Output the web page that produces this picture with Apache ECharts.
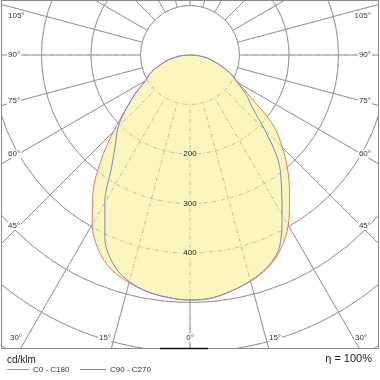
<!DOCTYPE html>
<html><head><meta charset="utf-8">
<script src="https://cdn.jsdelivr.net/npm/echarts@6/dist/echarts.min.js"></script>
<style>html,body{margin:0;padding:0;background:#fff}#c{width:380px;height:380px}</style>
</head><body><div id="c"></div>
<script>
// gamma angles (deg): negative = C180 / C270 half (left), positive = C0 / C90 half (right)
const angles = [-90,-85,-80,-75,-70,-65,-60,-55,-50,-45,-40,-35,-30,-25,-20,-15,-10,-5,0,
                5,10,15,20,25,30,35,40,45,50,55,60,65,70,75,80,85,90];
// luminous intensity, cd/klm
const c0c180 = [0,18,35,52,70,90,104,134,168,219,281,342,395,436,462,476,486,492,495,
                493,484,473,458,433,397,351,308,264,218,151,114,92,70,50,35,18,0];
const c90c270 = [0,18,35,52,70,90,104,134,168,205,234,276,344,407,451,474,486,492,495,
                 493,484,472,456,428,372,322,277,213,164,138,110,92,70,50,35,18,0];
const radiusMax = 700;
const radiusTickLabels = ['200','300','400'];
const angleLabelsSide = ['105°','90°','75°','60°','45°'];
const angleLabelsBottom = ['30°','15°','0°','15°','30°'];
const legendUnit = 'cd/klm';
const legendNames = ['C0 - C180','C90 - C270'];
const efficiency = 'η = 100%';

// layout / style
const CX = 190, CY = 55, R = 346.5, R0 = 49.5;
const GRID = '#969696', RED = '#dd7a7a', BLUE = '#8282c4', FILL = '#faf6be';
const FONT = 'Liberation Sans, Arial, sans-serif';
const sideY = [16, 55, 101, 154, 226];
const bottomX = [16, 105, 190, 275, 361];
const radLabelY = [154, 204, 253];

const pairs = vals => vals.map((v, i) => [v, angles[i]]);
const hiddenAxis = {axisLine:{show:false}, axisTick:{show:false}, axisLabel:{show:false}, splitLine:{show:false}};
const gridAngle = (idx, z, ls) => ({polarIndex:idx, z:z, type:'value', min:0, max:360, interval:15, startAngle:90, clockwise:false,
  axisLine:{show:false}, axisTick:{show:false}, axisLabel:{show:false}, splitLine:{show:true, lineStyle:ls}});
const gridRadius = (idx, z, ls) => ({polarIndex:idx, z:z, type:'value', min:100, max:radiusMax, interval:100,
  axisLine:{show:false}, axisTick:{show:false}, axisLabel:{show:false}, splitLine:{show:true, lineStyle:ls}});
const solid = {color:GRID, width:1};
const dashed = {color:GRID, width:1, type:[4,2,1,2], opacity:0.6};

const graphic = [];
// white covers outside the frame
graphic.push({type:'rect', z:100, shape:{x:0, y:349, width:380, height:31}, style:{fill:'#fff'}});
graphic.push({type:'rect', z:100, shape:{x:0, y:0, width:1.5, height:349}, style:{fill:'#fff'}});
graphic.push({type:'rect', z:100, shape:{x:378.5, y:0, width:2, height:349}, style:{fill:'#fff'}});
graphic.push({type:'rect', z:101, shape:{x:1.5, y:0.5, width:377, height:348}, style:{fill:null, stroke:'#8a8a8a', lineWidth:1}});
graphic.push({type:'line', z:101, shape:{x1:160, y1:348.5, x2:208, y2:348.5}, style:{stroke:'#111', lineWidth:1.5}});
// angle labels
angleLabelsSide.forEach((t, i) => {
  graphic.push({type:'text', z:102, style:{text:t, x:7, y:sideY[i], align:'left', verticalAlign:'middle', font:'8px ' + FONT, fill:'#333', backgroundColor:'#fff', padding:[0,1]}});
  graphic.push({type:'text', z:102, style:{text:t, x:372, y:sideY[i], align:'right', verticalAlign:'middle', font:'8px ' + FONT, fill:'#333', backgroundColor:'#fff', padding:[0,1]}});
});
angleLabelsBottom.forEach((t, i) => {
  graphic.push({type:'text', z:102, style:{text:t, x:bottomX[i], y:337.5, align:'center', verticalAlign:'middle', font:'8px ' + FONT, fill:'#333', backgroundColor:'#fff', padding:[0,1]}});
});
radiusTickLabels.forEach((t, i) => {
  graphic.push({type:'text', z:102, style:{text:t, x:CX, y:radLabelY[i], align:'center', verticalAlign:'middle', font:'8px ' + FONT, fill:'#222', backgroundColor:FILL, padding:[0,1]}});
});
// legend
graphic.push({type:'text', z:102, style:{text:legendUnit, x:7, y:360, align:'left', verticalAlign:'middle', font:'10px ' + FONT, fill:'#222'}});
graphic.push({type:'line', z:102, shape:{x1:7, y1:369.5, x2:29, y2:369.5}, style:{stroke:RED, lineWidth:1}});
graphic.push({type:'text', z:102, style:{text:legendNames[0], x:33, y:370, align:'left', verticalAlign:'middle', font:'8px ' + FONT, fill:'#333'}});
graphic.push({type:'line', z:102, shape:{x1:80, y1:369.5, x2:106, y2:369.5}, style:{stroke:BLUE, lineWidth:1}});
graphic.push({type:'text', z:102, style:{text:legendNames[1], x:110, y:370, align:'left', verticalAlign:'middle', font:'8px ' + FONT, fill:'#333'}});
graphic.push({type:'text', z:102, style:{text:efficiency, x:372, y:358.5, align:'right', verticalAlign:'middle', font:'11px ' + FONT, fill:'#222'}});

const chart = echarts.init(document.getElementById('c'), null, {renderer:'canvas', width:380, height:380});
chart.setOption({
  animation:false,
  polar:[
    {center:[CX, CY], radius:[0, R]},
    {center:[CX, CY], radius:[R0, R]},
    {center:[CX, CY], radius:[R0, R]}
  ],
  angleAxis:[
    Object.assign({polarIndex:0, type:'value', min:-180, max:180, startAngle:90, clockwise:false}, hiddenAxis),
    gridAngle(1, 0, solid),
    gridAngle(2, 10, dashed)
  ],
  radiusAxis:[
    Object.assign({polarIndex:0, type:'value', min:0, max:radiusMax}, hiddenAxis),
    gridRadius(1, 0, solid),
    gridRadius(2, 10, dashed)
  ],
  series:[
    {name:legendNames[0], type:'line', coordinateSystem:'polar', polarIndex:0, data:pairs(c0c180),
     symbol:'none', smooth:0.35, z:3, lineStyle:{color:RED, width:1},
     areaStyle:{color:FILL, opacity:1}},
    {name:legendNames[1], type:'line', coordinateSystem:'polar', polarIndex:0, data:pairs(c90c270),
     symbol:'none', smooth:0.35, z:4, lineStyle:{color:BLUE, width:1}}
  ],
  graphic:graphic
});
</script></body></html>
